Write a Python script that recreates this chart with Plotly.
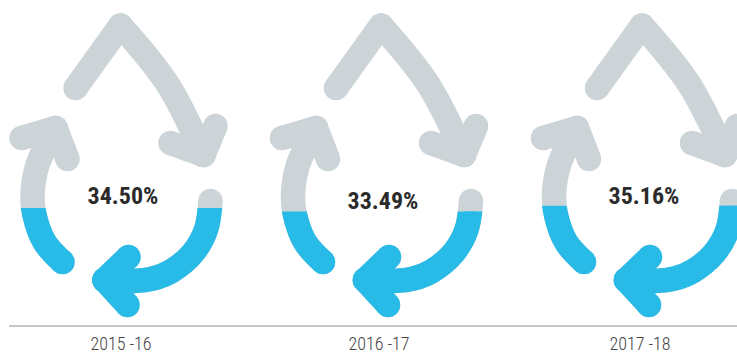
import plotly.graph_objects as go

# Data
years = ["2015 -16", "2016 -17", "2017 -18"]
values = [34.50, 33.49, 35.16]
value_labels = ["34.50%", "33.49%", "35.16%"]
centers = [120.5, 381, 642]
value_x = [123, 383, 644]
value_y = [198, 203, 198]
year_x = [121, 379, 640]
year_y = [345, 345, 345]

# Pictogram geometry (relative to apex x, picture pixels)
arm_left_x = [-45, 0]
arm_left_y = [88, 25.5]
arm_right_x = [0, 47, 83]
arm_right_y = [25.5, 84, 155]
barb1a_x = [95, 83]
barb1a_y = [126, 155]
barb1b_x = [83, 50]
barb1b_y = [155, 143]
loop_left_x = [-58, -76, -86, -88, -83, -65]
loop_left_y = [262, 242, 215, 195, 165, 128]
barb2a_x = [-99, -65]
barb2a_y = [138, 128]
barb2b_x = [-65, -53]
barb2b_y = [128, 159]
loop_right_x = [90, 85.4, 72, 51.5, 33, 13, -16]
loop_right_y = [201, 230, 253.5, 270.7, 278.4, 281, 280]
barb3a_x = [8, -16]
barb3a_y = [257, 280]
barb3b_x = [-16, 7]
barb3b_y = [280, 305]

GREY = "#CDD4D8"
BLUE = "#29BBE8"
WIDTH = 24.5
BASE = 326
PX_PER_PCT = 3.42
H = 354
W = 737

fig = go.Figure()


def stroke(xs, ys, cx, color, axis, smooth):
    n = len(xs)
    sizes = [WIDTH if i in (0, n - 1) else 0 for i in range(n)]
    line = dict(color=color, width=WIDTH, shape="spline", smoothing=1) if smooth else dict(color=color, width=WIDTH)
    fig.add_trace(go.Scatter(
        x=[cx + v for v in xs], y=ys, mode="lines+markers", line=line,
        marker=dict(color=color, size=sizes, opacity=1, line=dict(width=0)),
        yaxis=axis, showlegend=False, hoverinfo="skip",
    ))


def icon(cx, color, axis):
    stroke(arm_left_x, arm_left_y, cx, color, axis, False)
    stroke(arm_right_x, arm_right_y, cx, color, axis, True)
    stroke(barb1a_x, barb1a_y, cx, color, axis, False)
    stroke(barb1b_x, barb1b_y, cx, color, axis, False)
    stroke(loop_left_x, loop_left_y, cx, color, axis, True)
    stroke(barb2a_x, barb2a_y, cx, color, axis, False)
    stroke(barb2b_x, barb2b_y, cx, color, axis, False)
    stroke(loop_right_x, loop_right_y, cx, color, axis, True)
    stroke(barb3a_x, barb3a_y, cx, color, axis, False)
    stroke(barb3b_x, barb3b_y, cx, color, axis, False)


layout_axes = {}
for i, (cx, v) in enumerate(zip(centers, values)):
    icon(cx, GREY, "y")
    level = BASE - PX_PER_PCT * v
    name = f"y{i + 2}"
    icon(cx, BLUE, name)
    layout_axes[f"yaxis{i + 2}"] = dict(
        domain=[0, (H - level) / H], range=[H, level], visible=False, anchor="x",
    )

fig.add_trace(go.Scatter(x=[9, W], y=[BASE, BASE], mode="lines",
                         line=dict(color="#8C8C8C", width=1.2), showlegend=False, hoverinfo="skip"))

fig.add_trace(go.Scatter(
    x=value_x, y=value_y, mode="text", text=value_labels,
    textposition="middle center",
    textfont=dict(family="Roboto Condensed, Liberation Sans Narrow, Roboto", size=24, color="#2B2B2B", weight=700),
    showlegend=False, hoverinfo="skip",
))
fig.add_trace(go.Scatter(
    x=year_x, y=year_y, mode="text", text=years,
    textposition="middle center",
    textfont=dict(family="Roboto Condensed, Liberation Sans Narrow, Roboto", size=18, color="#444444", weight=300),
    showlegend=False, hoverinfo="skip",
))

fig.update_layout(
    width=W, height=H, margin=dict(l=0, r=0, t=0, b=0),
    paper_bgcolor="white", plot_bgcolor="rgba(0,0,0,0)",
    xaxis=dict(range=[0, W], visible=False, domain=[0, 1]),
    yaxis=dict(range=[H, 0], visible=False, domain=[0, 1]),
    **layout_axes,
)
fig.write_html("out.html", post_script="document.body.style.margin='0';",
               config=dict(displayModeBar=False))
